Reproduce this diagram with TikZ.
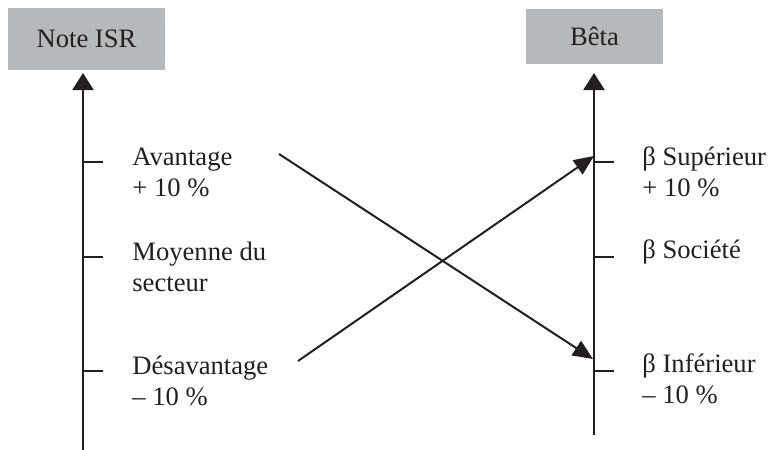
\documentclass[tikz,border=0pt]{standalone}
\usepackage{fontspec}
\setmainfont{Liberation Serif}
\usetikzlibrary{arrows.meta}
\definecolor{hdrgray}{HTML}{B6B9BC}
\definecolor{ink}{HTML}{231F20}
\begin{document}
\begin{tikzpicture}[x=0.5pt,y=-0.5pt,
  txt/.style={font=\fontsize{13.3}{15.5}\selectfont, text=ink},
  hdr/.style={txt, fill=hdrgray, inner sep=0pt},
  lbl/.style={txt, anchor=base west, align=left, inner sep=0pt},
  axis/.style={draw=ink, line width=1.2pt, -{Triangle[length=8.5pt,width=10.5pt]}},
  tickline/.style={draw=ink, line width=1pt},
  cross/.style={draw=ink, line width=1pt, -{Triangle[length=10pt,width=8.5pt]}}]
\useasboundingbox (0,0) rectangle (777,450);
% header boxes
\node[hdr, minimum width=78.5pt, minimum height=31pt] (isr) at (86.5,39) {Note ISR};
\node[hdr, minimum width=68.5pt, minimum height=27.5pt] (beta) at (594.5,36.5) {Bêta};
% axes
\coordinate (lbot) at (83,450);
\coordinate (ltop) at (83,73);
\coordinate (rbot) at (594,435);
\coordinate (rtop) at (594,73);
\draw[axis] (lbot) -- (ltop);
\draw[axis] (rbot) -- (rtop);
% ticks
\foreach \n/\y in {1/162,2/257,3/371}{
  \coordinate (lt\n) at (83,\y);
  \coordinate (rt\n) at (594,\y);
  \draw[tickline] (lt\n) -- ++(20,0);
  \draw[tickline] (rt\n) -- ++(20,0);
}
% left labels (base anchor = baseline of last line)
\node[lbl] (av) at (132,196) {Avantage\\+ 10~\%};
\node[lbl] (moy) at (132,291) {Moyenne du\\secteur};
\node[lbl] (des) at (132,405) {Désavantage\\– 10~\%};
% right labels
\node[lbl] (sup) at (642,196) {β Supérieur\\+ 10~\%};
\node[lbl] (soc) at (642,258) {β Société};
\node[lbl] (inf) at (642,403) {β Inférieur\\– 10~\%};
% crossing connectors
\coordinate (c1s) at (279,154);
\coordinate (c1e) at (593,359);
\coordinate (c2s) at (298,361);
\coordinate (c2e) at (594,156);
\draw[cross] (c1s) -- (c1e);
\draw[cross] (c2s) -- (c2e);
\end{tikzpicture}
\end{document}
